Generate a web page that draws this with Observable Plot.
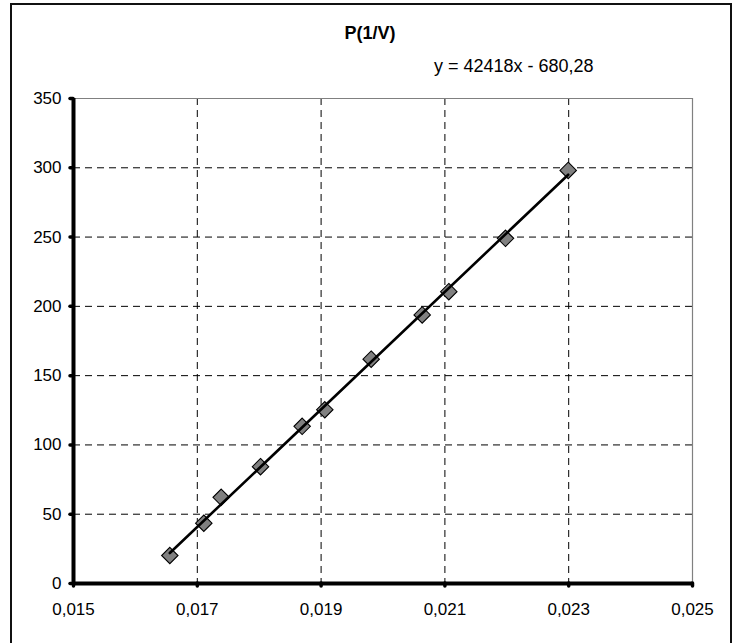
<!DOCTYPE html>
<html>
<head>
<meta charset="utf-8">
<script src="https://cdn.jsdelivr.net/npm/d3@7"></script>
<script src="https://cdn.jsdelivr.net/npm/@observablehq/plot@0.6"></script>
<style>
  html, body { margin: 0; padding: 0; background: #fff; }
  #wrap { position: relative; width: 734px; height: 643px; overflow: hidden; }
  #frame { position: absolute; left: 10px; top: 3px; width: 722px; height: 670px; border: 2px solid #111; box-sizing: border-box; pointer-events: none; }
  #chart { position: absolute; left: 0; top: 0; }
</style>
</head>
<body>
<div id="wrap"><div id="chart"></div><div id="frame"></div></div>
<script>
// Data: x = 1/V, y = P
const invV = [0.016556, 0.017105, 0.017386, 0.018021, 0.018694, 0.019060, 0.019809, 0.020633, 0.021063, 0.021979, 0.022992];
const pressure = [20.2, 43.5, 62.2, 84.3, 113.4, 125.4, 161.9, 193.8, 210.6, 249.1, 298.1];
const xTicks = [0.015, 0.017, 0.019, 0.021, 0.023, 0.025];
const yTicks = [0, 50, 100, 150, 200, 250, 300, 350];
const slope = 42418;
const intercept = -680.28;
const titleText = "P(1/V)";
const equationText = "y = 42418x - 680,28";

const points = invV.map((x, i) => ({x, y: pressure[i]}));
const xExt = d3.extent(invV);
const fit = xExt.map(x => ({x, y: slope * x + intercept}));
const fmtX = d => d3.format(".3f")(d).replace(".", ",");

const font = "'Liberation Sans', Arial, sans-serif";

const chart = Plot.plot({
  width: 734,
  height: 643,
  marginLeft: 73,
  marginRight: 42,
  marginTop: 98,
  marginBottom: 60,
  x: {domain: [xTicks[0], xTicks[xTicks.length - 1]]},
  y: {domain: [yTicks[0], yTicks[yTicks.length - 1]]},
  style: {fontFamily: font, fontSize: "17px", color: "#000", background: "transparent"},
  marks: [
    Plot.ruleX(xTicks.slice(1, -1), {stroke: "#000", strokeWidth: 1, strokeDasharray: "7,5"}),
    Plot.ruleY(yTicks.slice(1, -1), {stroke: "#000", strokeWidth: 1, strokeDasharray: "7,5"}),
    Plot.ruleY([yTicks[yTicks.length - 1]], {stroke: "#808080", strokeWidth: 1.2}),
    Plot.ruleX([xTicks[xTicks.length - 1]], {stroke: "#808080", strokeWidth: 1.2}),
    Plot.dot(points, {x: "x", y: "y", symbol: "diamond2", r: 7.4, fill: "#808080", stroke: "#000", strokeWidth: 1.1}),
    Plot.line(fit, {x: "x", y: "y", stroke: "#000", strokeWidth: 2.6}),
    Plot.axisX({ticks: xTicks, tickFormat: fmtX, tickSize: 3, tickPadding: 16, strokeWidth: 3.5, strokeLinecap: "round", fontSize: 17, label: null}),
    Plot.axisY({ticks: yTicks, tickSize: 3, tickPadding: 9, strokeWidth: 3.5, strokeLinecap: "round", fontSize: 17, label: null}),
    Plot.ruleY([0], {stroke: "#000", strokeWidth: 4}),
    Plot.ruleX([xTicks[0]], {stroke: "#000", strokeWidth: 4})
  ]
});

const svg = d3.select(chart);
svg.append("text")
  .attr("x", 370).attr("y", 39)
  .attr("text-anchor", "middle")
  .attr("font-family", font).attr("font-size", 18).attr("font-weight", "bold")
  .attr("fill", "#000")
  .text(titleText);
svg.append("text")
  .attr("x", 434).attr("y", 72)
  .attr("text-anchor", "start")
  .attr("font-family", font).attr("font-size", 18)
  .attr("fill", "#000")
  .text(equationText);

document.getElementById("chart").appendChild(chart);
</script>
</body>
</html>
